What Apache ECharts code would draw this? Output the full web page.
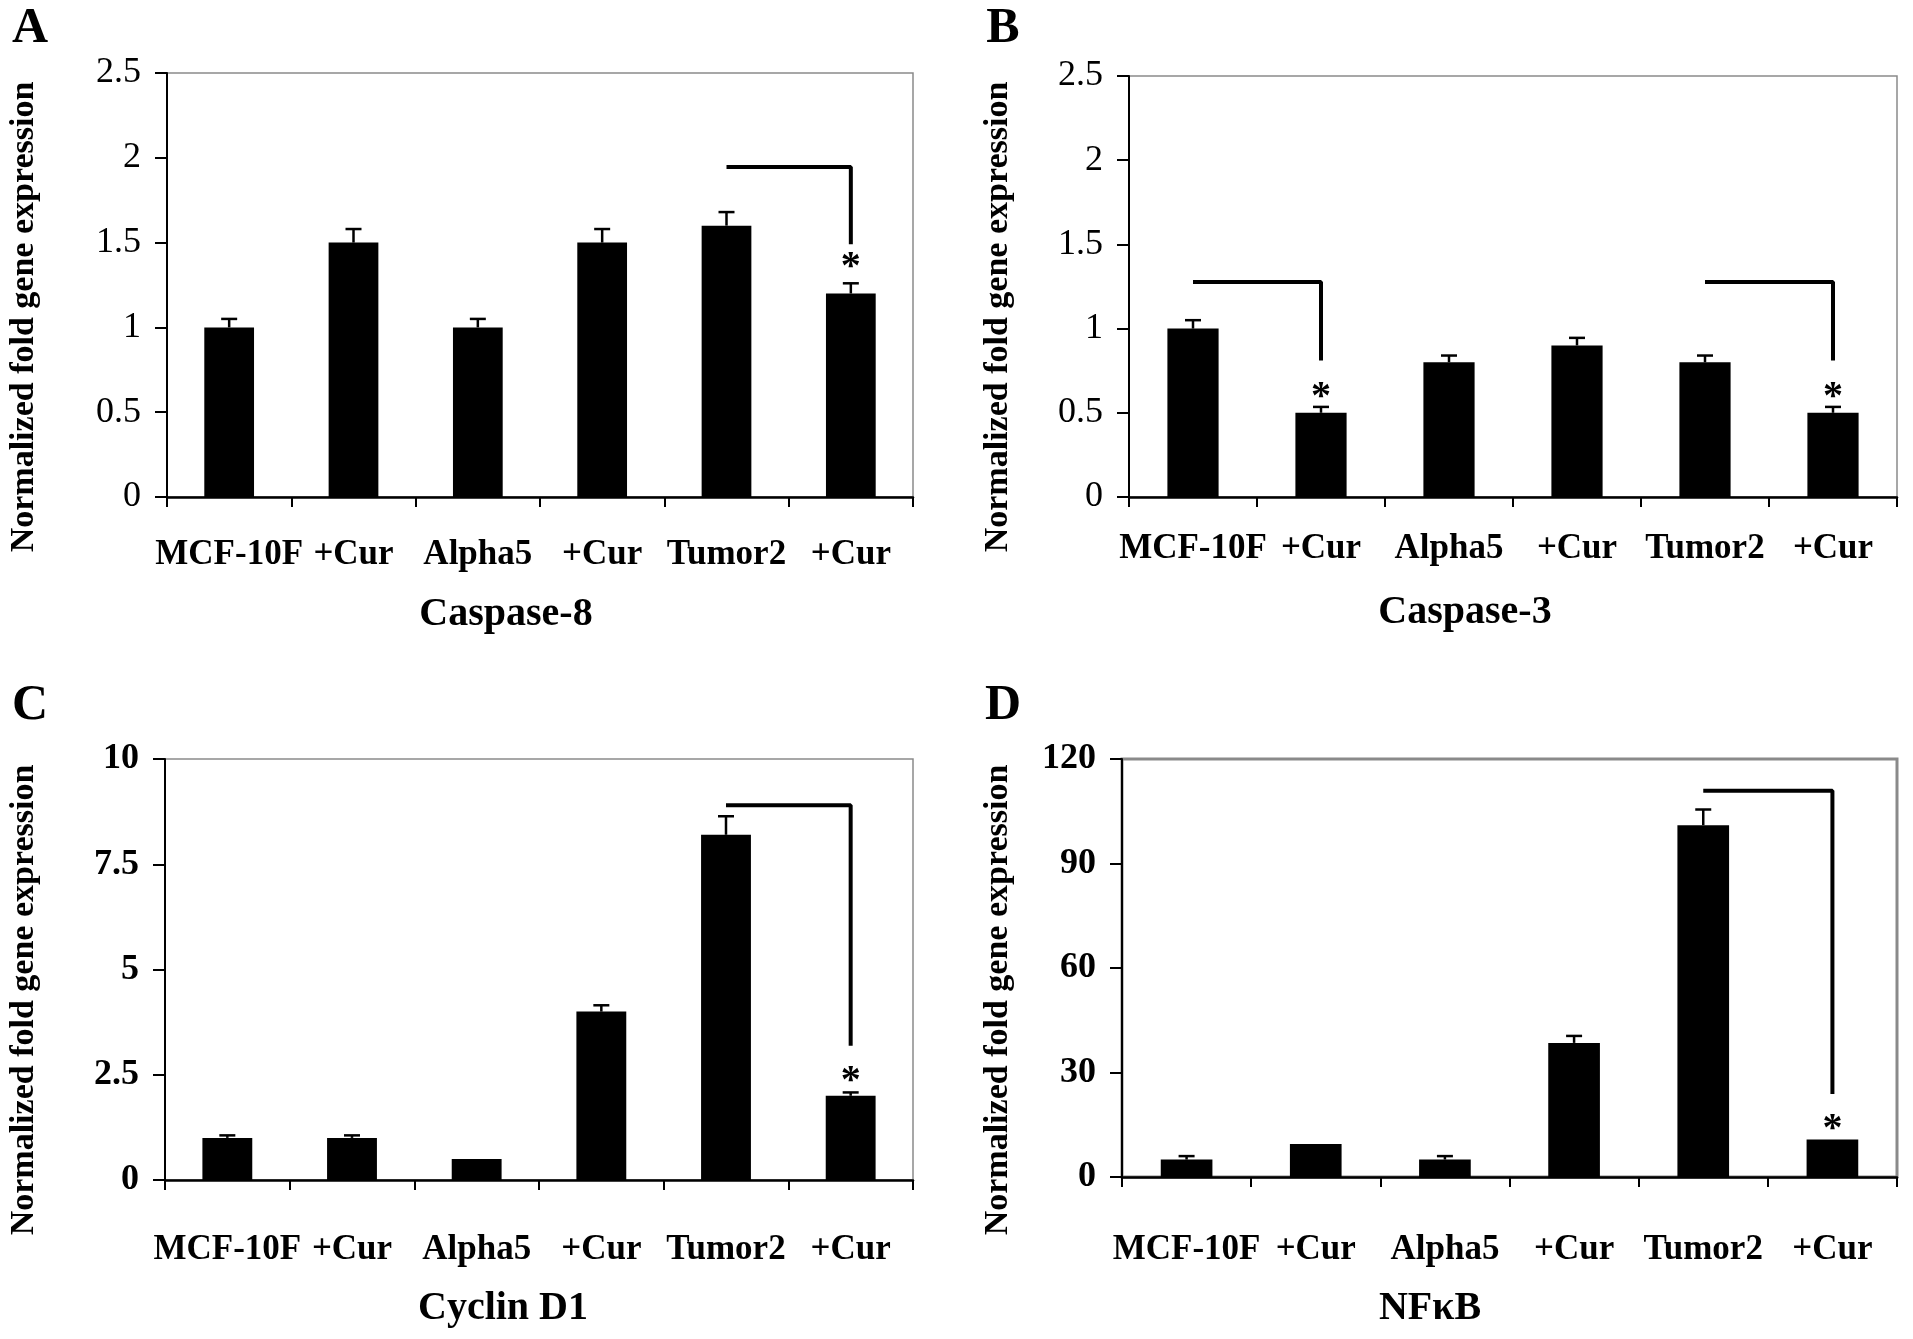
<!DOCTYPE html>
<html><head><meta charset="utf-8">
<script src="https://cdn.jsdelivr.net/npm/echarts@6/dist/echarts.min.js"></script>
<style>html,body{margin:0;padding:0;background:#fff}#c{width:1913px;height:1339px}</style>
</head><body><div id="c"></div>
<script>
// ---------- data ----------
const categories = ['MCF-10F', '+Cur', 'Alpha5', '+Cur', 'Tumor2', '+Cur'];
const geneNames = ['Caspase-8', 'Caspase-3', 'Cyclin D1', 'NFκB'];
const panelLetters = ['A', 'B', 'C', 'D'];
const yAxisTitle = 'Normalized fold gene expression';
const yMax = [2.5, 2.5, 10, 120];
const yInterval = [0.5, 0.5, 2.5, 30];

const caspase8Values = [1.0, 1.5, 1.0, 1.5, 1.6, 1.2];
const caspase8Errors = [0.05, 0.08, 0.05, 0.08, 0.08, 0.06];
const caspase3Values = [1.0, 0.5, 0.8, 0.9, 0.8, 0.5];
const caspase3Errors = [0.05, 0.035, 0.04, 0.045, 0.04, 0.035];
const cyclinD1Values = [1.0, 1.0, 0.5, 4.0, 8.2, 2.0];
const cyclinD1Errors = [0.06, 0.06, 0, 0.15, 0.44, 0.08];
const nfkbValues = [5, 9.5, 5, 38.5, 101, 10.8];
const nfkbErrors = [1, 0, 1, 2, 4.5, 0];

// significance brackets: [fromIndex, toIndex, level, dropTo]
const caspase8Brackets = [[4, 5, 1.946, 1.49]];
const caspase3Brackets = [[0, 1, 1.277, 0.81], [4, 5, 1.277, 0.81]];
const cyclinD1Brackets = [[4, 5, 8.9, 3.19]];
const nfkbBrackets = [[4, 5, 110.9, 23.8]];
// asterisks: [index, value]
const caspase8Stars = [[5, 1.40]];
const caspase3Stars = [[1, 0.635], [5, 0.635]];
const cyclinD1Stars = [[5, 2.52]];
const nfkbStars = [[5, 15.8]];

// ---------- layout ----------
const FONT = '"Liberation Serif", "Times New Roman", serif';
const panels = [
  {vals: caspase8Values, errs: caspase8Errors, br: caspase8Brackets, st: caspase8Stars,
   grid: {left: 167, top: 73, width: 746, height: 424}, labelMargin: 38, tickBold: false,
   letter: [30, 29], yName: [24, 317], xName: [506, 615], topBorder: 1.5},
  {vals: caspase3Values, errs: caspase3Errors, br: caspase3Brackets, st: caspase3Stars,
   grid: {left: 1129, top: 76, width: 768, height: 421}, labelMargin: 32, tickBold: false,
   letter: [1003, 29], yName: [998, 317], xName: [1465, 613], topBorder: 1.5},
  {vals: cyclinD1Values, errs: cyclinD1Errors, br: cyclinD1Brackets, st: cyclinD1Stars,
   grid: {left: 165, top: 759, width: 748, height: 421}, labelMargin: 50, tickBold: true,
   letter: [30, 706], yName: [24, 1000], xName: [503, 1309], topBorder: 1.5},
  {vals: nfkbValues, errs: nfkbErrors, br: nfkbBrackets, st: nfkbStars,
   grid: {left: 1122, top: 759, width: 775, height: 418}, labelMargin: 53, tickBold: true,
   letter: [1003, 706], yName: [998, 1000], xName: [1430, 1309], topBorder: 3}
];

const grid = [], xAxis = [], yAxis = [], series = [], graphic = [];

panels.forEach((p, i) => {
  grid.push(Object.assign({show: true, borderColor: '#8a8a8a', borderWidth: p.topBorder,
    backgroundColor: 'transparent', containLabel: false}, p.grid));
  xAxis.push({
    type: 'category', gridIndex: i, data: categories,
    axisLine: {lineStyle: {color: '#000', width: 2.5}},
    axisTick: {show: true, length: 10, lineStyle: {color: '#000', width: 2}},
    axisLabel: {color: '#000', fontFamily: FONT, fontWeight: 'bold', fontSize: 35,
      margin: p.labelMargin, interval: 0, lineHeight: 40},
    splitLine: {show: false}
  });
  yAxis.push({
    type: 'value', gridIndex: i, min: 0, max: yMax[i], interval: yInterval[i],
    axisLine: {show: true, lineStyle: {color: '#000', width: 2}},
    axisTick: {show: true, length: 12, lineStyle: {color: '#000', width: 2}},
    axisLabel: {color: '#000', fontFamily: FONT, fontSize: 36,
      fontWeight: p.tickBold ? 'bold' : 'normal', margin: 26},
    splitLine: {show: false}
  });
  series.push({
    type: 'bar', xAxisIndex: i, yAxisIndex: i, data: p.vals, barWidth: '40%',
    itemStyle: {color: '#000'}, z: 2
  });
  series.push({
    type: 'custom', xAxisIndex: i, yAxisIndex: i, z: 3,
    data: p.vals.map((v, k) => [k, v, p.errs[k]]),
    renderItem: function (params, api) {
      const x = api.value(0), v = api.value(1), e = api.value(2);
      if (!e) return null;
      const a = api.coord([x, v]), b = api.coord([x, v + e]);
      const st = {stroke: '#000', lineWidth: 2.5};
      return {type: 'group', children: [
        {type: 'line', shape: {x1: a[0], y1: a[1], x2: b[0], y2: b[1]}, style: st},
        {type: 'line', shape: {x1: b[0] - 8, y1: b[1], x2: b[0] + 8, y2: b[1]}, style: st}
      ]};
    }
  });
  p.br.forEach(b => {
    series.push({
      type: 'line', xAxisIndex: i, yAxisIndex: i, z: 4, symbol: 'none', silent: true,
      data: [[b[0], b[2]], [b[1], b[2]], [b[1], b[3]]],
      lineStyle: {color: '#000', width: 4}
    });
  });
  series.push({
    type: 'custom', xAxisIndex: i, yAxisIndex: i, z: 5, data: p.st,
    renderItem: function (params, api) {
      const c = api.coord([api.value(0), api.value(1)]);
      return {type: 'text', style: {text: '*', x: c[0], y: c[1] + 8, align: 'center',
        verticalAlign: 'middle', fontSize: 40, fontWeight: 'bold', fontFamily: FONT, fill: '#000'}};
    }
  });
  graphic.push({type: 'text', x: p.letter[0], y: p.letter[1],
    style: {text: panelLetters[i], align: 'center', verticalAlign: 'middle',
      fontSize: 50, fontWeight: 'bold', fontFamily: FONT, fill: '#000'}});
  graphic.push({type: 'text', x: p.yName[0], y: p.yName[1], rotation: Math.PI / 2,
    style: {text: yAxisTitle, align: 'center', verticalAlign: 'middle',
      fontSize: 34, fontWeight: 'bold', fontFamily: FONT, fill: '#000'}});
  graphic.push({type: 'text', x: p.xName[0], y: p.xName[1],
    style: {text: geneNames[i], align: 'center', verticalAlign: 'middle',
      fontSize: 40, fontWeight: 'bold', fontFamily: FONT, fill: '#000'}});
});

const chart = echarts.init(document.getElementById('c'), null, {renderer: 'canvas'});
chart.setOption({animation: false, backgroundColor: '#fff', grid, xAxis, yAxis, series, graphic});
</script></body></html>
